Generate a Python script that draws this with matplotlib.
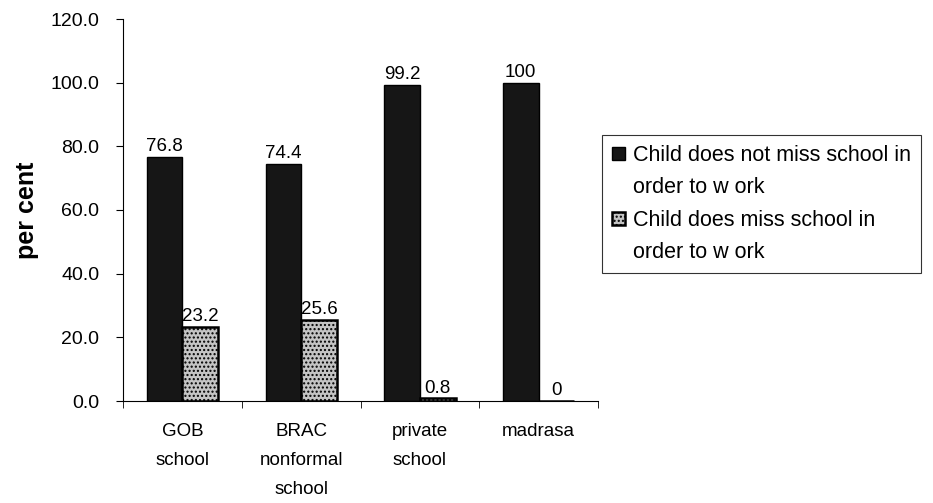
import numpy as np
import matplotlib.pyplot as plt
from matplotlib.patches import Rectangle
from matplotlib.legend_handler import HandlerPatch

plt.rcParams['font.family'] = ['Liberation Sans', 'DejaVu Sans']

schools = ["GOB\nschool", "BRAC\nnonformal\nschool", "private\nschool", "madrasa"]
not_miss = [76.8, 74.4, 99.2, 100]
does_miss = [23.2, 25.6, 0.8, 0]
not_miss_labels = ["76.8", "74.4", "99.2", "100"]
miss_labels = ["23.2", "25.6", "0.8", "0"]
series_names = ["Child does not miss school in\norder to w ork",
                "Child does miss school in\norder to w ork"]


class UpperSquare(HandlerPatch):
    # legend key sits beside the first line of a two-line label
    def create_artists(self, legend, orig_handle, xdescent, ydescent,
                       width, height, fontsize, trans):
        p = Rectangle((-xdescent, -ydescent + fontsize * 0.85), width, height)
        self.update_prop(p, orig_handle, legend)
        p.set_transform(trans)
        return [p]


fig = plt.figure(figsize=(9.33, 5.03), dpi=100)
ax = fig.add_axes([123/933, 1-401/503, (598-123)/933, (401-19)/503])

x = np.arange(len(schools))
w = 0.3
b1 = ax.bar(x - w/2, not_miss, w, color="#161616", edgecolor="black",
            linewidth=1.0)
b2 = ax.bar(x + w/2, does_miss, w, color="#c4c4c4", edgecolor="black",
            linewidth=1.8, hatch="....")

for rect, txt in zip(b1, not_miss_labels):
    ax.text(rect.get_x() + rect.get_width()/2, rect.get_height() + 0.6, txt,
            ha="center", va="bottom", fontsize=13.5)
for rect, txt in zip(b2, miss_labels):
    ax.text(rect.get_x() + rect.get_width()/2, rect.get_height() + 0.6, txt,
            ha="center", va="bottom", fontsize=13.5)

ax.set_xlim(-0.5, len(schools) - 0.5)
ax.set_ylim(0, 120)
ax.set_yticks(np.arange(0, 121, 20))
ax.set_yticklabels([f"{v:.1f}" for v in np.arange(0, 121, 20)], fontsize=14)
ax.set_ylabel("per cent", fontsize=18, fontweight="bold", labelpad=8)

ax.set_xticks(x)
ax.set_xticklabels(schools, fontsize=13.5, linespacing=1.9)
ax.tick_params(axis="x", which="major", length=0, pad=16)
ax.set_xticks(np.arange(-0.5, len(schools), 1), minor=True)
ax.tick_params(axis="x", which="minor", length=5, direction="out")
ax.tick_params(axis="y", length=5, direction="out", pad=12)

ax.spines["top"].set_visible(False)
ax.spines["right"].set_visible(False)

leg = fig.legend(handles=[b1[0], b2[0]], labels=series_names,
                 loc="upper left", bbox_to_anchor=(602/933, 1-135/503),
                 fontsize=15.5, frameon=True, fancybox=False, edgecolor="black",
                 handlelength=0.6, handleheight=0.6, handletextpad=0.4,
                 labelspacing=0.55, borderpad=0.45, borderaxespad=0,
                 handler_map={Rectangle: UpperSquare()})
leg.get_frame().set_linewidth(0.8)
for t in leg.get_texts():
    t.set_linespacing(1.7)

fig.savefig("out.png", dpi=100)
